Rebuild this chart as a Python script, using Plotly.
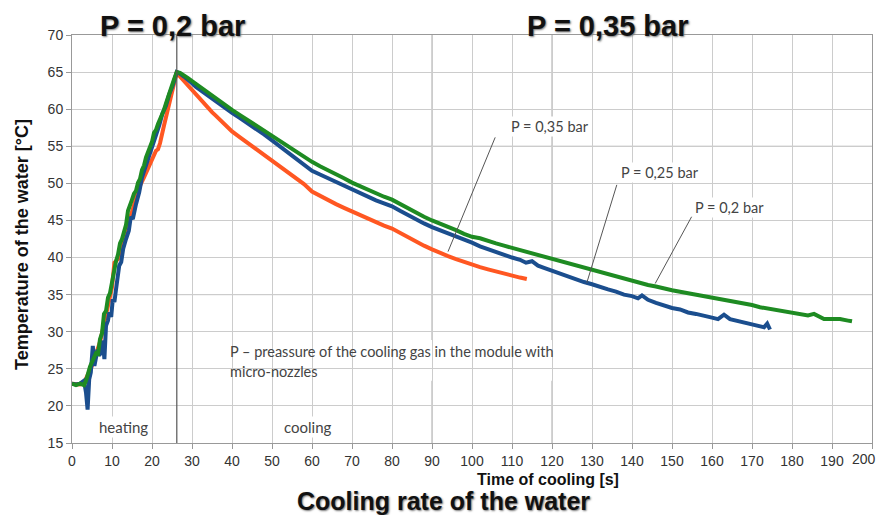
import plotly.graph_objects as go

# ---------------- data ----------------
# P = 0,2 bar (green)
t_green = [0, 1, 2, 3, 3.5, 4, 4.5, 5, 5.5, 6, 6.5, 7, 7.5, 8, 8.5, 9, 9.5, 10, 10.5, 11, 11.5, 12, 12.5, 13,
           13.5, 14, 14.5, 15, 15.5, 16, 16.5, 17, 17.5, 18, 18.5, 19, 19.5, 20, 20.5, 21, 21.5, 22, 22.5, 23,
           23.5, 24, 24.5, 25, 25.5, 26.2,
           27, 28, 29, 30, 31, 32, 33, 34, 35, 36, 37, 38, 39, 40, 42, 44, 46, 48, 50, 52, 54, 56, 58, 60, 62,
           64, 66, 68, 70, 72, 74, 76, 78, 80, 82, 84, 86, 88, 90, 92, 94, 96, 98, 100, 102, 104, 106, 108, 110,
           112, 114, 116, 118, 120, 122, 124, 126, 128, 130, 132, 134, 136, 138, 140, 142, 144, 146, 148, 150,
           152, 154, 156, 158, 160, 162, 164, 166, 168, 170, 172, 174, 176, 178, 180, 182, 184, 185.5, 187, 188,
           190, 192, 194, 195]
T_green = [23.0, 22.8, 23.0, 22.8, 23.4, 24.6, 25.3, 25.9, 26.6, 27.1, 27.0, 29.0, 29.8, 32.4, 32.8, 34.6, 35.2,
           36.8, 37.6, 39.5, 40.4, 41.9, 42.5, 43.6, 44.4, 46.3, 46.9, 47.8, 48.6, 49.0, 50.1, 50.6, 51.8, 52.4,
           53.5, 54.2, 55.0, 55.6, 56.8, 57.2, 58.0, 58.6, 59.4, 59.9, 60.8, 61.5, 62.3, 63.2, 64.0, 65.0,
           64.9, 64.6, 64.2, 63.8, 63.4, 63.0, 62.6, 62.3, 61.9, 61.4, 61.1, 60.7, 60.3, 59.9, 59.2, 58.5, 57.7,
           57.0, 56.3, 55.6, 54.9, 54.3, 53.6, 52.9, 52.3, 51.8, 51.3, 50.7, 50.1, 49.6, 49.1, 48.7, 48.2, 47.8,
           47.2, 46.6, 46.1, 45.5, 45.0, 44.6, 44.1, 43.7, 43.2, 42.8, 42.6, 42.2, 41.9, 41.6, 41.3, 41.0, 40.7,
           40.5, 40.2, 39.9, 39.6, 39.3, 38.9, 38.6, 38.3, 38.0, 37.8, 37.5, 37.1, 36.8, 36.6, 36.3, 36.1, 35.8,
           35.6, 35.4, 35.2, 35.0, 34.9, 34.7, 34.5, 34.2, 34.0, 33.8, 33.6, 33.3, 33.1, 33.0, 32.7, 32.5, 32.3,
           32.2, 32.4, 31.9, 31.7, 31.7, 31.7, 31.5, 31.4]

# P = 0,25 bar (blue)
t_blue = [0, 1, 2, 3, 3.5, 3.9, 4.3, 4.7, 5.2, 5.6, 6.0, 6.4, 6.8, 7.25, 7.7, 8.1, 8.5, 9.0, 9.3, 9.8, 10.2,
          10.6, 11, 11.4, 11.8, 12.3, 12.8, 13.5, 14.2, 14.7, 15.2, 16, 16.8, 17.5, 18.5, 19.3, 20.2, 21, 21.8,
          22.6, 23.5, 24.3, 25.2, 26.2,
          27, 28, 29, 30, 31, 32, 33, 34, 35, 36, 37, 38, 39, 40, 42, 44, 46, 48, 50, 52, 54, 56, 58, 60, 62,
          64, 66, 68, 70, 72, 74, 76, 78, 80, 82, 84, 86, 88, 90, 92, 94, 96, 98, 100, 102, 104, 106, 108, 110,
          112, 113.5, 115, 116.5, 118, 120, 122, 124, 126, 128, 130, 132, 134, 136, 138, 140, 141.5, 142.5,
          144, 146, 148, 150, 152, 154, 156, 158, 160, 161.5, 163, 164.5, 166, 168, 170, 171.5, 173, 173.8,
          174.5]
T_blue = [23.0, 22.9, 23.0, 23.4, 21.8, 19.5, 23.6, 24.5, 28.1, 25.4, 26.5, 27.6, 26.8, 27.2, 28.8, 26.3, 30.8,
          31.5, 32.6, 32.0, 34.4, 34.0, 35.7, 37.0, 38.9, 39.4, 41.2, 42.5, 43.6, 45.5, 45.2, 47.2, 48.8, 50.8,
          52.4, 54.0, 55.1, 56.8, 57.8, 59.4, 60.5, 62.0, 63.2, 65.0,
          64.8, 64.4, 64.0, 63.5, 63.0, 62.6, 62.2, 61.8, 61.4, 61.0, 60.6, 60.2, 59.8, 59.5, 58.8, 58.1, 57.3,
          56.6, 55.8, 55.0, 54.2, 53.4, 52.6, 51.7, 51.2, 50.7, 50.1, 49.6, 49.1, 48.6, 48.1, 47.7, 47.3, 46.9,
          46.3, 45.7, 45.1, 44.6, 44.1, 43.7, 43.2, 42.8, 42.4, 42.0, 41.5, 41.1, 40.8, 40.4, 40.0, 39.7, 39.3,
          39.5, 38.9, 38.6, 38.2, 37.9, 37.5, 37.1, 36.7, 36.4, 36.0, 35.7, 35.4, 35.0, 34.8, 34.5, 34.9, 34.3,
          33.9, 33.5, 33.2, 33.0, 32.6, 32.4, 32.2, 31.9, 31.7, 32.3, 31.7, 31.5, 31.3, 31.0, 30.9, 30.6, 31.1,
          30.3]

# P = 0,35 bar (orange)
t_orange = [0, 1, 2, 3, 4, 5, 6, 7, 8, 9, 10, 10.6, 11, 11.5, 12, 13, 14, 15, 16, 17, 18, 19, 20, 21, 21.5, 22,
            23, 24, 25, 26.2,
            27, 28, 29, 30, 31, 32, 33, 34, 35, 36, 37, 38, 39, 40, 42, 44, 46, 48, 50, 52, 54, 56, 58, 60, 62,
            64, 66, 68, 70, 72, 74, 76, 78, 80, 82, 84, 86, 88, 90, 92, 94, 96, 98, 100, 102, 104, 106, 108,
            110, 112, 113.7]
T_orange = [23.0, 23.0, 22.9, 23.1, 24.2, 25.4, 27.0, 28.6, 31.0, 33.4, 36.0, 39.3, 39.5, 39.8, 40.8, 42.6, 44.4,
            46.0, 47.8, 49.7, 50.8, 52.0, 53.4, 54.4, 54.6, 55.4, 57.8, 60.2, 62.6, 65.0,
            64.4, 63.8, 63.1, 62.5, 61.8, 61.2, 60.7, 60.1, 59.6, 59.1, 58.6, 58.0, 57.5, 57.0, 56.2, 55.4, 54.6,
            53.8, 53.0, 52.3, 51.5, 50.7, 49.9, 48.9, 48.3, 47.7, 47.2, 46.7, 46.2, 45.7, 45.2, 44.8, 44.3, 43.9,
            43.3, 42.7, 42.1, 41.6, 41.1, 40.6, 40.2, 39.8, 39.4, 39.1, 38.7, 38.4, 38.1, 37.8, 37.6, 37.3, 37.1]

x_ticks = list(range(0, 201, 10))
y_ticks = list(range(15, 71, 5))

GRAY_TXT = "#444444"
TICK_FONT = dict(family="Liberation Sans, Arial, sans-serif", size=14, color="#333333")
fig = go.Figure()
fig.add_trace(go.Scatter(x=t_orange, y=T_orange, mode="lines", name="P = 0,35 bar",
                         line=dict(color="#FF5722", width=4)))
fig.add_trace(go.Scatter(x=t_blue, y=T_blue, mode="lines", name="P = 0,25 bar",
                         line=dict(color="#1B4E8E", width=4)))
fig.add_trace(go.Scatter(x=t_green, y=T_green, mode="lines", name="P = 0,2 bar",
                         line=dict(color="#1E8B22", width=4)))

shapes = []
# slightly darker grid lines (as in the picture)
for yv in (35, 55):
    shapes.append(dict(type="line", xref="x", yref="y", x0=0, x1=200, y0=yv, y1=yv,
                       line=dict(color="#a8a8a8", width=1), layer="below"))
for xv in (90, 120):
    shapes.append(dict(type="line", xref="x", yref="y", x0=xv, x1=xv, y0=15, y1=70,
                       line=dict(color="#a8a8a8", width=1), layer="below"))
# white box behind the note
shapes.append(dict(type="rect", xref="x", yref="y", x0=37.5, x1=133, y0=23.4, y1=28.9,
                   fillcolor="white", line=dict(width=0), layer="below"))
# heating / cooling separator
shapes.append(dict(type="line", xref="x", yref="y", x0=26.2, x1=26.2, y0=15, y1=70,
                   line=dict(color="#555555", width=1.2)))
# leader lines
for (xa, ya, xb, yb) in [(105.8, 56.2, 94.0, 40.8), (136.2, 49.8, 128.7, 36.6), (154.9, 45.5, 145.8, 36.5)]:
    shapes.append(dict(type="line", xref="x", yref="y", x0=xa, y0=ya, x1=xb, y1=yb,
                       line=dict(color="#555555", width=1)))

ann = []
small = dict(family="Lato, Open Sans, sans-serif", size=14.5, color=GRAY_TXT)
for txt, xv, yv in [("P = 0,35 bar", 119.5, 57.7), ("P = 0,25 bar", 147.0, 51.5), ("P = 0,2 bar", 164.3, 46.8)]:
    ann.append(dict(text=txt, x=xv, y=yv, xref="x", yref="y", showarrow=False, font=small,
                    bgcolor="white", borderpad=1))
note_font = dict(family="Lato, Open Sans, sans-serif", size=14.5, color=GRAY_TXT)
ann.append(dict(text="P – preassure of the cooling gas in the module with", x=39.0, y=27.3, xref="x", yref="y",
                xanchor="left", showarrow=False, font=note_font))
ann.append(dict(text="micro-nozzles", x=39.0, y=24.6, xref="x", yref="y",
                xanchor="left", showarrow=False, font=note_font))
lab_font = dict(family="Lato, Open Sans, sans-serif", size=15, color=GRAY_TXT)
ann.append(dict(text="heating", x=12.8, y=17.2, xref="x", yref="y", showarrow=False,
                font=lab_font, bgcolor="white"))
ann.append(dict(text="cooling", x=59.0, y=17.2, xref="x", yref="y", showarrow=False,
                font=lab_font, bgcolor="white"))

# last x tick label sits at the very edge of the page: drawn right-aligned so it stays visible
ann.append(dict(text=str(x_ticks[-1]), x=x_ticks[-1], y=0, xref="x", yref="paper", xanchor="right",
                yanchor="top", xshift=6, yshift=-6, showarrow=False, font=TICK_FONT))

big = dict(family="Liberation Sans, Arial, sans-serif", size=29, color="#111111", weight="bold",
           shadow="1px 1px 2px #777")
ann.append(dict(text="P = 0,2 bar", x=25.0, y=1.022, xref="x", yref="paper", showarrow=False, font=big,
                yanchor="middle"))
ann.append(dict(text="P = 0,35 bar", x=133.9, y=1.022, xref="x", yref="paper", showarrow=False, font=big,
                yanchor="middle"))
ann.append(dict(text="Time of cooling [s]", x=119.0, y=-0.089, xref="x", yref="paper", showarrow=False,
                yanchor="middle",
                font=dict(family="Liberation Sans, Arial, sans-serif", size=16, color="#111111", weight="bold")))
ann.append(dict(text="Cooling rate of the water", x=0.464, y=-0.143, xref="paper", yref="paper", showarrow=False,
                yanchor="middle",
                font=dict(family="Liberation Sans, Arial, sans-serif", size=25, color="#111111", weight="bold",
                          shadow="1px 1px 2px #777")))
ann.append(dict(text="Temperature of the water [°C]", x=-0.0625, y=41.7, xref="paper", yref="y",
                showarrow=False, textangle=-90, xanchor="center", yanchor="middle",
                font=dict(family="Liberation Sans, Arial, sans-serif", size=18, color="#111111", weight="bold")))

axis_common = dict(showgrid=True, gridcolor="#cccccc", gridwidth=1, zeroline=False,
                   showline=True, linecolor="#999999", mirror=True, automargin=False,
                   ticks="outside", ticklen=5, tickcolor="#999999", tickfont=TICK_FONT)

x_ticktext = [str(v) for v in x_ticks[:-1]] + [""]

# the page body adds an 8 px offset, so the figure is sized/margined to fit the window exactly
fig.update_layout(
    template="none",
    width=870, height=507,
    margin=dict(l=64, r=6, t=27, b=72, autoexpand=False),
    plot_bgcolor="white", paper_bgcolor="white",
    showlegend=False,
    shapes=shapes, annotations=ann,
    xaxis=dict(range=[0, 200], tickvals=x_ticks, ticktext=x_ticktext, **axis_common),
    yaxis=dict(range=[15, 70], tickvals=y_ticks, ticktext=[str(v) for v in y_ticks], **axis_common),
)

fig.write_html("out.html")
